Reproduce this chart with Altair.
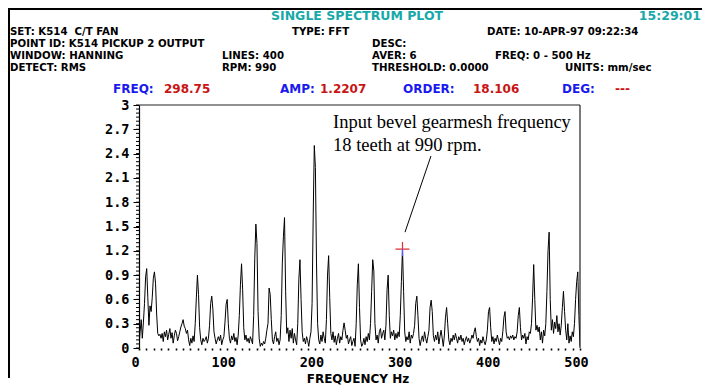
import altair as alt
import pandas as pd

# ---------------- data ----------------
# 400-line FFT, 0 - 500 Hz -> 1.25 Hz per line (401 bins incl. 0)
line_spacing_hz = 1.25
amplitude = [
    0.02, 0.20, 0.35, 0.12, 0.32, 0.55, 0.88, 0.98, 0.62, 0.28,
    0.52, 0.45, 0.62, 0.86, 0.94, 0.80, 0.42, 0.18, 0.15, 0.17,
    0.12, 0.18, 0.08, 0.20, 0.14, 0.22, 0.10, 0.17, 0.24, 0.12,
    0.19, 0.06, 0.15, 0.22, 0.18, 0.09, 0.14, 0.20, 0.26, 0.30,
    0.35, 0.27, 0.24, 0.18, 0.22, 0.10, 0.03, 0.12, 0.06, 0.15,
    0.08, 0.30, 0.62, 0.90, 0.66, 0.25, 0.10, 0.04, 0.12, 0.08,
    0.10, 0.14, 0.06, 0.12, 0.28, 0.55, 0.64, 0.48, 0.20, 0.12,
    0.05, 0.10, 0.14, 0.09, 0.16, 0.04, 0.10, 0.14, 0.32, 0.54,
    0.60, 0.30, 0.12, 0.06, 0.15, 0.10, 0.18, 0.08, 0.13, 0.04,
    0.16, 0.40, 0.78, 1.04, 0.72, 0.25, 0.10, 0.16, 0.08, 0.12,
    0.06, 0.14, 0.10, 0.05, 0.40, 1.10, 1.53, 1.29, 0.45, 0.12,
    0.02, 0.06, 0.03, 0.08, 0.05, 0.12, 0.22, 0.30, 0.74, 0.66,
    0.35, 0.10, 0.05, 0.14, 0.20, 0.08, 0.12, 0.04, 0.10, 0.40,
    1.05, 1.38, 1.61, 0.70, 0.18, 0.25, 0.08, 0.22, 0.12, 0.24,
    0.06, 0.18, 0.10, 0.04, 0.30, 0.85, 1.09, 0.60, 0.20, 0.08,
    0.12, 0.05, 0.14, 0.09, 0.02, 0.12, 0.20, 0.55, 1.63, 2.50,
    2.23, 1.05, 0.30, 0.10, 0.05, 0.16, 0.08, 0.20, 0.12, 0.06,
    0.35, 0.90, 1.14, 0.62, 0.18, 0.10, 0.20, 0.07, 0.15, 0.04,
    0.12, 0.18, 0.06, 0.14, 0.10, 0.22, 0.31, 0.22, 0.12, 0.16,
    0.05, 0.10, 0.14, 0.03, 0.08, 0.12, 0.02, 0.30, 0.78, 1.04,
    0.50, 0.10, 0.02, 0.05, 0.12, 0.04, 0.14, 0.08, 0.18, 0.10,
    0.30, 0.70, 1.09, 0.95, 0.30, 0.10, 0.16, 0.06, 0.20, 0.24,
    0.12, 0.18, 0.22, 0.10, 0.28, 0.72, 0.90, 0.40, 0.12, 0.20,
    0.15, 0.22, 0.10, 0.18, 0.12, 0.20, 0.14, 0.40, 0.82, 1.2207,
    0.70, 0.20, 0.08, 0.14, 0.10, 0.20, 0.06, 0.16, 0.12, 0.18,
    0.28, 0.55, 0.64, 0.40, 0.12, 0.03, 0.10, 0.15, 0.08, 0.20,
    0.12, 0.06, 0.14, 0.22, 0.50, 0.59, 0.45, 0.15, 0.08, 0.16,
    0.10, 0.20, 0.05, 0.14, 0.22, 0.12, 0.02, 0.16, 0.38, 0.50,
    0.30, 0.10, 0.04, 0.12, 0.08, 0.16, 0.10, 0.18, 0.12, 0.06,
    0.14, 0.10, 0.16, 0.08, 0.12, 0.04, 0.10, 0.14, 0.08, 0.12,
    0.06, 0.10, 0.16, 0.12, 0.20, 0.25, 0.14, 0.08, 0.12, 0.03,
    0.10, 0.06, 0.14, 0.08, 0.04, 0.10, 0.22, 0.45, 0.50, 0.25,
    0.08, 0.14, 0.05, 0.12, 0.08, 0.16, 0.10, 0.04, 0.12, 0.08,
    0.20, 0.38, 0.45, 0.20, 0.12, 0.14, 0.10, 0.15, 0.12, 0.16,
    0.10, 0.14, 0.12, 0.20, 0.40, 0.50, 0.25, 0.10, 0.16, 0.12,
    0.18, 0.05, 0.14, 0.10, 0.20, 0.18, 0.30, 0.62, 1.03, 0.60,
    0.22, 0.28, 0.20, 0.26, 0.10, 0.20, 0.06, 0.22, 0.15, 0.30,
    0.70, 1.20, 1.43, 0.60, 0.22, 0.35, 0.18, 0.32, 0.24, 0.40,
    0.20, 0.30, 0.16, 0.28, 0.50, 0.70, 0.45, 0.22, 0.10, 0.30,
    0.06, 0.15, 0.08, 0.20, 0.14, 0.30, 0.60, 0.82, 0.94, 0.40,
    0.02,
]
frequency = [i * line_spacing_hz for i in range(len(amplitude))]

y_tick_values = [0, 0.3, 0.6, 0.9, 1.2, 1.5, 1.8, 2.1, 2.4, 2.7, 3]
y_minor_values = [round(i * 0.05, 2) for i in range(61)]
x_dot_values = [round(i * 500 / 60, 4) for i in range(61)]

cursor_freq = [298.75]
cursor_amp = [1.2207]

annotation_lines = ["Input bevel gearmesh frequency", "18 teeth at 990 rpm."]

CYAN = "#17a9a9"
BLUE = "#1a1af0"
RED = "#c81414"
BLACK = "#000000"
NB = "\u00a0"

MONO = "DejaVu Sans Mono"
HEAD = "DejaVu Sans"
# header items: (text, x_page, y_page, colour, align, font, size)
S_TITLE, S_ROW, S_CUR = 12.5, 10.2, 12
header = [
    ("SINGLE SPECTRUM PLOT", 271, 16, CYAN, "left", HEAD, S_TITLE),
    ("15:29:01", 701, 16, CYAN, "right", HEAD, S_TITLE),
    ("SET: K514 " + NB + "C/T FAN", 10, 31.5, BLACK, "left", HEAD, S_ROW),
    ("TYPE: FFT", 292, 31.5, BLACK, "left", HEAD, S_ROW),
    ("DATE: 10-APR-97 09:22:34", 487, 31.5, BLACK, "left", HEAD, S_ROW),
    ("POINT ID: K514 PICKUP 2 OUTPUT", 10, 43.5, BLACK, "left", HEAD, S_ROW),
    ("DESC:", 372, 43.5, BLACK, "left", HEAD, S_ROW),
    ("WINDOW: HANNING", 10, 55.5, BLACK, "left", HEAD, S_ROW),
    ("LINES: 400", 222, 55.5, BLACK, "left", HEAD, S_ROW),
    ("AVER: 6", 372, 55.5, BLACK, "left", HEAD, S_ROW),
    ("FREQ: 0 - 500 Hz", 495, 55.5, BLACK, "left", HEAD, S_ROW),
    ("DETECT: RMS", 10, 67.5, BLACK, "left", HEAD, S_ROW),
    ("RPM: 990", 222, 67.5, BLACK, "left", HEAD, S_ROW),
    ("THRESHOLD: 0.0000", 372, 67.5, BLACK, "left", HEAD, S_ROW),
    ("UNITS: mm/sec", 565, 67.5, BLACK, "left", HEAD, S_ROW),
    ("FREQ:", 113, 89, BLUE, "left", HEAD, S_CUR),
    ("298.75", 164, 89, RED, "left", HEAD, S_CUR),
    ("AMP:", 280, 89, BLUE, "left", HEAD, S_CUR),
    ("1.2207", 320, 89, RED, "left", HEAD, S_CUR),
    ("ORDER:", 403, 89, BLUE, "left", HEAD, S_CUR),
    ("18.106", 473, 89, RED, "left", HEAD, S_CUR),
    ("DEG:", 562, 89, BLUE, "left", HEAD, S_CUR),
    ("---", 615, 89, RED, "left", HEAD, S_CUR),
    ("FREQUENCY Hz", 358, 379, BLACK, "center", HEAD, 12),
]

# ---------------- layout ----------------
PLOT_LEFT, PLOT_TOP = 139, 105        # page coordinates of the plot origin
W, H = 441, 243
AX_SIZE = 13.5

xscale = alt.Scale(domain=[0, 500], nice=False, zero=False)
yscale = alt.Scale(domain=[0, 3], nice=False, zero=False)

x_axis = alt.Axis(
    values=x_dot_values,
    labelExpr="abs(datum.value - round(datum.value / 100) * 100) < 0.01 ? format(round(datum.value), 'd') : ''",
    labelOverlap=False,
    labelFont=MONO, labelFontSize=AX_SIZE, labelFontWeight="bold", labelColor=BLACK,
    labelPadding=5, labelFlush=False, labelOffset=-4,
    tickSize=2, tickWidth=1.6, tickColor=BLACK,
    domain=False, grid=False, title=None,
)
y_axis = alt.Axis(
    values=y_tick_values, format="~g", labelOverlap=False,
    labelFont=MONO, labelFontSize=AX_SIZE, labelFontWeight="bold", labelColor=BLACK,
    labelPadding=4, tickSize=6, tickColor=BLACK, tickWidth=1,
    domain=True, domainColor=BLACK, domainWidth=1.2, grid=False, title=None,
)


def X(field="freq"):
    return alt.X(f"{field}:Q", scale=xscale, axis=x_axis)


def Y(field="amp"):
    return alt.Y(f"{field}:Q", scale=yscale, axis=y_axis)


spec_df = pd.DataFrame({"freq": frequency, "amp": amplitude})

line = alt.Chart(spec_df).mark_line(color=BLACK, strokeWidth=1, clip=True).encode(x=X(), y=Y())

minor_ticks = alt.Chart(pd.DataFrame({"amp": y_minor_values})).mark_rule(
    color=BLACK, strokeWidth=1
).encode(y=Y(), x=alt.value(-3), x2=alt.value(0))

one = pd.DataFrame({"k": [0]})
# plot frame (top and right edges)
frame_top = alt.Chart(one).mark_rule(color="#222222", strokeWidth=1.2).encode(
    x=alt.value(0), x2=alt.value(W), y=alt.value(0)
)
frame_right = alt.Chart(one).mark_rule(color="#222222", strokeWidth=1.2).encode(
    x=alt.value(W), y=alt.value(0), y2=alt.value(H)
)

# outer screen border (top and left)
outer_top = alt.Chart(one).mark_rule(color=BLACK, strokeWidth=2).encode(
    x=alt.value(8 - PLOT_LEFT), x2=alt.value(706 - PLOT_LEFT), y=alt.value(9 - PLOT_TOP)
)
outer_left = alt.Chart(one).mark_rule(color=BLACK, strokeWidth=2).encode(
    x=alt.value(9 - PLOT_LEFT), y=alt.value(8 - PLOT_TOP), y2=alt.value(H + 30)
)

cursor_df = pd.DataFrame({"freq": cursor_freq, "amp": cursor_amp})
cursor_red = alt.Chart(cursor_df).mark_point(
    shape="M-1,0L1,0M0,-1L0,0", size=196, filled=False, stroke="#e03030", strokeWidth=1.2, opacity=1
).encode(x=X(), y=Y())
cursor_blue = alt.Chart(cursor_df).mark_point(
    shape="M0,0L0,1", size=196, filled=False, stroke="#5a5aff", strokeWidth=1.4, opacity=1
).encode(x=X(), y=Y())

leader_df = pd.DataFrame({"freq": [331.0], "amp": [2.37], "freq2": [301.6], "amp2": [1.43]})
leader = alt.Chart(leader_df).mark_rule(color=BLACK, strokeWidth=1).encode(
    x=X(), y=Y(), x2="freq2:Q", y2="amp2:Q",
)

annot_df = pd.DataFrame({"freq": [220.0, 220.0], "amp": [2.79, 2.51], "label": annotation_lines})
annot = alt.Chart(annot_df).mark_text(
    font="Liberation Serif", fontSize=18.5, align="left", baseline="middle", color=BLACK
).encode(x=X(), y=Y(), text="label:N")

text_layers = []
for txt, xp, yp, col, al, fnt, sz in header:
    text_layers.append(
        alt.Chart(pd.DataFrame({"t": [txt]})).mark_text(
            font=fnt, fontSize=sz, fontWeight="bold", align=al, baseline="middle", color=col
        ).encode(x=alt.value(xp - PLOT_LEFT), y=alt.value(yp - PLOT_TOP), text="t:N")
    )

chart = alt.layer(
    line, minor_ticks, frame_top, frame_right, outer_top, outer_left,
    leader, cursor_red, cursor_blue, annot, *text_layers
).properties(
    width=W, height=H,
    padding={"left": PLOT_LEFT - 8, "top": PLOT_TOP - 8, "right": 122, "bottom": 41},
    autosize=alt.AutoSizeParams(type="none"),
    background="white",
).configure_view(strokeWidth=0).configure_axis(labelOverlap=False)

chart.save("out.html", embed_options={"renderer": "svg", "actions": False})
